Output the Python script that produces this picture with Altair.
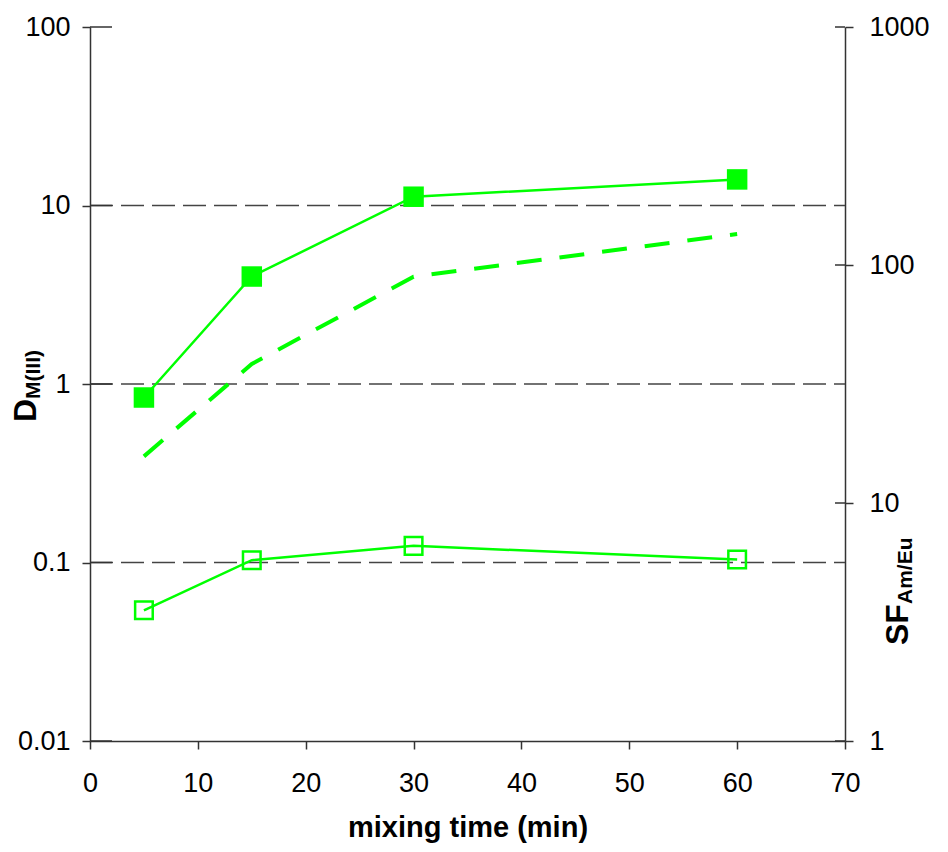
import altair as alt
import pandas as pd

# ---- data ----
time_min = [5, 15, 30, 60]
d_am = [0.84, 4.0, 11.2, 14.0]          # filled squares, left axis
d_eu = [0.054, 0.103, 0.124, 0.104]     # open squares, left axis
sf_am_eu = [15.7, 38.4, 89.3, 135.0]    # dashed line, right axis

x_ticks = [0, 10, 20, 30, 40, 50, 60, 70]
left_ticks = [100, 10, 1, 0.1, 0.01]
right_ticks = [1000, 100, 10, 1]
grid_vals = [10, 1, 0.1]

W, H = 755, 714
GREEN = "#00FF00"
AX = "#333333"
FONT = "Arial, Liberation Sans, sans-serif"

df = pd.DataFrame({"t": time_min, "am": d_am, "eu": d_eu, "sf": sf_am_eu})
grid_df = pd.DataFrame({"g": grid_vals})
lt_df = pd.DataFrame({"v": left_ticks})
rt_df = pd.DataFrame({"v": right_ticks})
one = pd.DataFrame({"a": [0]})

xscale = alt.Scale(domain=[0, 70], nice=False, zero=False)
yl = alt.Scale(type="log", domain=[0.01, 100], nice=False)
yr = alt.Scale(type="log", domain=[1, 1000], nice=False)

common = dict(grid=False, tickSize=8, tickColor=AX, tickWidth=1.5,
              domainColor=AX, domainWidth=1.5, labelFont=FONT, labelFontSize=27,
              labelColor="black", labelFlush=False, labelOverlap=False)

x_axis = alt.Axis(values=x_ticks, title="mixing time (min)", labelPadding=21,
                  titleFont=FONT, titleFontSize=29, titleFontWeight="bold",
                  titleColor="black", titleY=95, titleBaseline="alphabetic", **common)
left_axis = alt.Axis(orient="left", values=left_ticks, format="~g", title=None,
                     labelPadding=12, **common)
right_axis = alt.Axis(orient="right", values=right_ticks, format="~g", title=None,
                      labelPadding=16, **common)

X = alt.X("t:Q", scale=xscale, axis=x_axis)   # identical everywhere so the shared axis merges
base = alt.Chart(df)

# left-scale layers
grid = alt.Chart(grid_df).mark_rule(color="#444444", strokeWidth=1.5, strokeDash=[23, 8]).encode(
    y=alt.Y("g:Q", scale=yl, axis=None), x=alt.value(0), x2=alt.value(W)
)
left_in_ticks = alt.Chart(lt_df).mark_rule(color=AX, strokeWidth=1.5).encode(
    y=alt.Y("v:Q", scale=yl, axis=None), x=alt.value(0), x2=alt.value(22)
)
am_line = base.mark_line(color=GREEN, strokeWidth=2.5).encode(
    x=X, y=alt.Y("am:Q", scale=yl, axis=left_axis),
)
am_pts = base.mark_point(shape="square", filled=True, size=420, color=GREEN, opacity=1).encode(
    x=X, y=alt.Y("am:Q", scale=yl, axis=None)
)
eu_line = base.mark_line(color=GREEN, strokeWidth=2.5).encode(
    x=X, y=alt.Y("eu:Q", scale=yl, axis=None)
)
eu_pts = base.mark_point(shape="square", filled=False, size=310, strokeWidth=2.5,
                         color=GREEN, opacity=1).encode(
    x=X, y=alt.Y("eu:Q", scale=yl, axis=None)
)

# right-scale layers
sf_line = base.mark_line(color=GREEN, strokeWidth=4, strokeDash=[25, 18]).encode(
    x=X, y=alt.Y("sf:Q", scale=yr, axis=right_axis),
)
right_in_ticks = alt.Chart(rt_df).mark_rule(color=AX, strokeWidth=1.5).encode(
    y=alt.Y("v:Q", scale=yr, axis=None), x=alt.value(W - 10), x2=alt.value(W)
)

# axis titles with subscripts
def label(txt, size, x, y):
    return alt.Chart(one).mark_text(text=txt, angle=270, font=FONT, fontSize=size,
                                    fontWeight="bold", align="left",
                                    baseline="alphabetic", color="black").encode(
        x=alt.value(x), y=alt.value(y))

d_main = label("D", 32, -54, 395)
d_sub = label("M(III)", 21, -50, 372)
sf_main = label("SF", 32, 818, 618)
sf_sub = label("Am/Eu", 21, 822, 577)

chart = alt.layer(
    grid, left_in_ticks, am_line, eu_line, am_pts, eu_pts,
    sf_line, right_in_ticks, d_main, d_sub, sf_main, sf_sub,
).resolve_scale(y="independent").properties(
    width=W, height=H,
    autosize=alt.AutoSizeParams(type="none"),
    padding={"left": 82, "top": 19, "right": 92, "bottom": 102},
    background="white",
).configure_view(stroke=None)

chart.save("out.html", embed_options={"renderer": "svg", "actions": False})
